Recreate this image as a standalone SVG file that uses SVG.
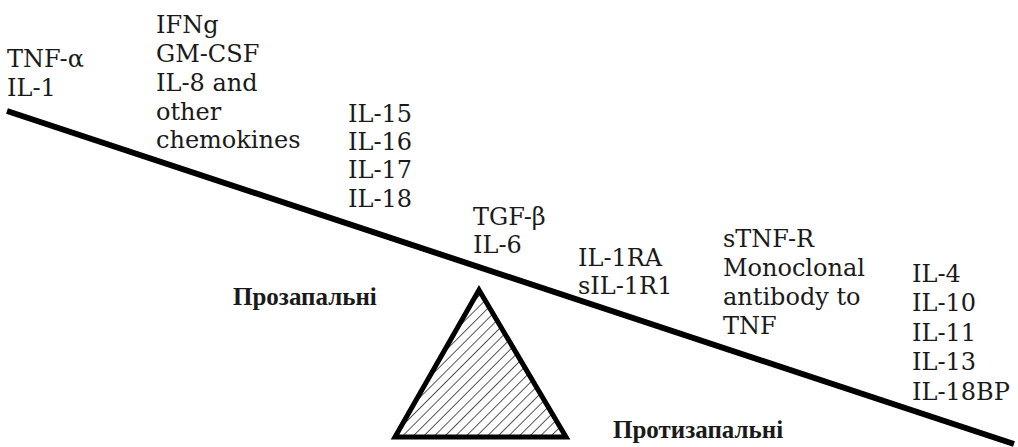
<svg xmlns="http://www.w3.org/2000/svg" width="1018" height="447" viewBox="0 0 1018 447">
<style>
  text { fill: #1a1a1a; }
  .t { font-family: 'DejaVu Serif', serif; font-size: 24px; }
  .b { font-family: 'Liberation Serif', 'DejaVu Serif', serif; font-size: 25px; font-weight: 700; }
  .beam { stroke: #000; stroke-width: 6; fill: none; }
  .fulcrum { stroke: #000; stroke-width: 5; stroke-linejoin: miter; fill: url(#hatch); }
</style>
<defs>
  <pattern id="hatch" patternUnits="userSpaceOnUse" width="7.5" height="7.5" patternTransform="rotate(45)">
    <rect width="7.5" height="7.5" fill="#fff"/>
    <line x1="0" y1="0" x2="0" y2="7.5" stroke="#000" stroke-width="1.3"/>
  </pattern>
</defs>
<rect width="1018" height="447" fill="#fff"/>
<g id="connectors">
  <line class="beam" x1="7" y1="111" x2="1014" y2="444"/>
</g>
<g id="fulcrum">
  <polygon class="fulcrum" points="479,290 395,437 566,437"/>
</g>
<g id="group-tnf">
  <text class="t" x="7" y="67">TNF-α</text>
  <text class="t" x="7" y="96">IL-1</text>
</g>
<g id="group-ifng">
  <text class="t" x="156" y="33">IFNg</text>
  <text class="t" x="156" y="62">GM-CSF</text>
  <text class="t" x="156" y="91">IL-8 and</text>
  <text class="t" x="156" y="120">other</text>
  <text class="t" x="156" y="148">chemokines</text>
</g>
<g id="group-il15">
  <text class="t" x="348" y="122">IL-15</text>
  <text class="t" x="348" y="150">IL-16</text>
  <text class="t" x="348" y="178">IL-17</text>
  <text class="t" x="348" y="207">IL-18</text>
</g>
<g id="group-tgf">
  <text class="t" x="473" y="225">TGF-β</text>
  <text class="t" x="473" y="253">IL-6</text>
</g>
<g id="group-il1ra">
  <text class="t" x="578" y="266">IL-1RA</text>
  <text class="t" x="578" y="294">sIL-1R1</text>
</g>
<g id="group-stnfr">
  <text class="t" x="723" y="247">sTNF-R</text>
  <text class="t" x="723" y="276">Monoclonal</text>
  <text class="t" x="723" y="305">antibody to</text>
  <text class="t" x="723" y="334">TNF</text>
</g>
<g id="group-il4">
  <text class="t" x="912" y="282">IL-4</text>
  <text class="t" x="912" y="311">IL-10</text>
  <text class="t" x="912" y="341">IL-11</text>
  <text class="t" x="912" y="370">IL-13</text>
  <text class="t" x="912" y="400">IL-18BP</text>
</g>
<g id="label-pro">
  <text class="b" x="233" y="305">Прозапальні</text>
</g>
<g id="label-anti">
  <text class="b" x="613" y="438">Протизапальні</text>
</g>
</svg>
